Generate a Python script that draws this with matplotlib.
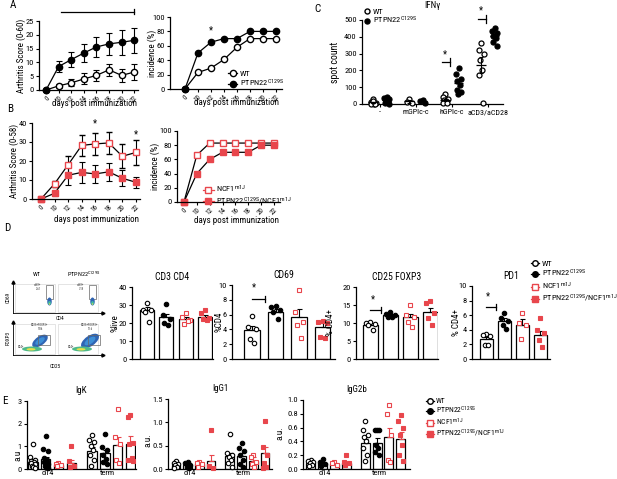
import numpy as np
import matplotlib.pyplot as plt
from matplotlib import font_manager
from matplotlib.lines import Line2D
from matplotlib.patches import Ellipse, Rectangle

W, H = 617, 479
RED = "#e8464c"

_names = {f.name for f in font_manager.fontManager.ttflist}
FONT = next((n for n in ["Liberation Sans Narrow", "Roboto Condensed", "Lato", "DejaVu Sans"]
             if n in _names), "DejaVu Sans")
plt.rcParams["font.family"] = [FONT, "DejaVu Sans"]
plt.rcParams["mathtext.default"] = "regular"
plt.rcParams["axes.linewidth"] = 0.9

# ---------------- data ----------------
days = ["0", "10", "12", "14", "16", "18", "20", "22"]
a_score_wt = [0, 1.5, 2.6, 4.0, 5.3, 7.3, 5.3, 6.5]
a_score_wt_err = [0, 0.8, 1.3, 2.0, 2.0, 2.1, 2.4, 2.9]
a_score_pt = [0, 8.5, 11.0, 13.4, 15.6, 16.7, 17.3, 18.0]
a_score_pt_err = [0, 2.1, 2.6, 3.2, 3.7, 4.0, 4.5, 4.6]
a_inc_wt = [0, 23, 29, 41, 58, 70, 70, 70]
a_inc_pt = [0, 50, 65, 70, 70, 80, 80, 80]

b_score_ncf = [0, 8, 18, 28.2, 29, 29.5, 22.5, 24.5]
b_score_ncf_err = [0, 1.5, 4.5, 5.5, 6.0, 6.0, 6.3, 6.8]
b_score_dbl = [0, 3, 12.5, 14, 13.2, 14.3, 10.9, 8.8]
b_score_dbl_err = [0, 1.2, 5.0, 5.5, 4.6, 4.8, 4.3, 2.8]
b_inc_ncf = [0, 66, 83, 83, 83, 83, 83, 83]
b_inc_dbl = [0, 40, 60, 70, 70, 70, 80, 80]

c_groups = ["-", "mGPIc-c", "hGPIc-c", "aCD3/aCD28"]
c_wt = [[30, 12, 8, 5, 2, 0, 0, 18], [30, 12, 5], [58, 40, 30, 22, 15, 8, 3],
        [362, 322, 300, 262, 205, 170, 5]]
c_pt = [[42, 35, 28, 20, 12, 5, 0, 25], [25, 18, 8], [212, 178, 150, 135, 115, 82, 70, 62],
        [450, 432, 420, 405, 395, 370, 348]]

labels4 = ["WT", "PTPN22$^{C129S}$", "NCF1$^{m1J}$", "PTPN22$^{C129S}$/NCF1$^{m1J}$"]

cd3_mean = [27.5, 23.1, 22.2, 23.2]
cd3_err = [1.3, 2.1, 1.1, 1.4]
cd3_pts = [[31, 27.5, 27, 26.2, 20.7], [30.5, 24.4, 22, 19.8, 18.9],
           [25.7, 23.5, 21.6, 19.3, 21.0], [27.5, 25.3, 22.6, 22, 21.6]]
cd69_mean = [3.9, 6.4, 5.7, 4.3]
cd69_err = [0.6, 0.4, 1.1, 0.6]
cd69_pts = [[5.8, 4.3, 4.0, 2.7, 2.2], [7.2, 7.0, 6.6, 6.4, 5.4],
            [9.3, 6.4, 5.0, 4.6, 2.8], [5.1, 5.0, 4.9, 3.0, 2.8]]
cd25_mean = [9.5, 12.2, 11.6, 13.0]
cd25_err = [0.5, 0.4, 0.9, 1.2]
cd25_pts = [[10.4, 10.0, 9.7, 9.4, 8.1], [13.0, 12.5, 12.2, 11.8, 11.7],
            [15.0, 12.3, 11.8, 10.3, 9.0], [16.0, 15.5, 12.8, 11.5, 9.4]]
pd1_mean = [2.7, 5.2, 4.7, 3.3]
pd1_err = [0.3, 0.4, 0.8, 0.6]
pd1_pts = [[3.4, 3.3, 3.2, 1.9, 1.9], [6.3, 5.6, 5.2, 4.7, 4.1],
           [6.3, 5.0, 4.7, 2.7], [5.6, 4.0, 3.5, 2.6, 1.6]]

igk_mean = [0.3, 0.42, 0.18, 0.28, 0.8, 0.7, 1.05, 1.12]
igk_err = [0.08, 0.12, 0.03, 0.1, 0.15, 0.15, 0.38, 0.35]
igk_pts = [[1.1, 0.55, 0.4, 0.35, 0.3, 0.25, 0.2, 0.15, 0.1, 0.05],
           [1.45, 0.9, 0.8, 0.5, 0.4, 0.3, 0.2, 0.15, 0.1, 0.05],
           [0.25, 0.2, 0.18, 0.12], [1.0, 0.35, 0.15, 0.1],
           [1.5, 1.3, 1.2, 1.0, 0.85, 0.6, 0.4, 0.15],
           [1.55, 0.95, 0.85, 0.6, 0.45, 0.3, 0.2],
           [2.65, 1.43, 1.1, 0.4, 0.27], [2.4, 2.3, 1.15, 1.1, 0.5, 0.4, 0.35]]
igg1_mean = [0.08, 0.08, 0.1, 0.18, 0.28, 0.28, 0.18, 0.35]
igg1_err = [0.02, 0.02, 0.02, 0.12, 0.06, 0.06, 0.08, 0.12]
igg1_pts = [[0.17, 0.12, 0.1, 0.08, 0.05, 0.03], [0.15, 0.12, 0.08, 0.05, 0.03],
            [0.15, 0.12, 0.1, 0.05], [0.83, 0.06, 0.03],
            [0.76, 0.35, 0.3, 0.25, 0.2, 0.12, 0.05], [0.55, 0.45, 0.38, 0.3, 0.2, 0.1, 0.05],
            [0.3, 0.25, 0.15, 0.1, 0.05], [1.02, 0.48, 0.3, 0.12, 0.05, 0.03]]
igg2b_mean = [0.09, 0.08, 0.07, 0.08, 0.38, 0.37, 0.47, 0.44]
igg2b_err = [0.01, 0.015, 0.01, 0.02, 0.05, 0.08, 0.13, 0.09]
igg2b_pts = [[0.13, 0.11, 0.1, 0.08, 0.06, 0.05], [0.14, 0.1, 0.07, 0.05],
             [0.1, 0.08, 0.06], [0.2, 0.1, 0.08, 0.06],
             [0.69, 0.57, 0.5, 0.47, 0.4, 0.3, 0.2, 0.12], [0.56, 0.56, 0.56, 0.35, 0.3, 0.25, 0.2],
             [0.93, 0.8, 0.5, 0.13, 0.1], [0.78, 0.7, 0.6, 0.5, 0.35, 0.2, 0.12]]
e_groups = ["d14", "term"]

# ---------------- helpers ----------------
fig = plt.figure(figsize=(W / 100, H / 100), dpi=100)

STY = [dict(marker="o", mfc="white", mec="black", color="black"),
       dict(marker="o", mfc="black", mec="black", color="black"),
       dict(marker="s", mfc="white", mec=RED, color=RED),
       dict(marker="s", mfc=RED, mec=RED, color=RED)]
OFFS = np.array([0, -1, 1, -0.5, 0.5, -0.8, 0.8, -0.25, 0.25, 0.9])


def add_ax(x0, y0, x1, y1):
    ax = fig.add_axes([x0 / W, 1 - y1 / H, (x1 - x0) / W, (y1 - y0) / H])
    ax._px = (x0, y0, x1, y1)
    for s in ["top", "right"]:
        ax.spines[s].set_visible(False)
    ax.tick_params(direction="out", length=2.5, width=0.8, labelsize=6, pad=1.2)
    return ax


def ylabel_px(ax, text, xr, yc=None, size=6.5):
    x0, y0, x1, y1 = ax._px
    yc = (y0 + y1) / 2 if yc is None else yc
    ax.set_ylabel(text, fontsize=size)
    ax.yaxis.set_label_coords((xr - x0) / (x1 - x0), (y1 - yc) / (y1 - y0))


def xlabel_px(ax, text, xc, ytop, size=6.5):
    x0, y0, x1, y1 = ax._px
    ax.set_xlabel(text, fontsize=size)
    ax.xaxis.set_label_coords((xc - x0) / (x1 - x0), (y1 - ytop) / (y1 - y0))


def ftext(x, y, s, **kw):
    fig.text(x / W, 1 - y / H, s, **kw)


def day_axis(ax, xlim):
    ax.set_xlim(*xlim)
    ax.set_xticks(np.arange(len(days)))
    ax.set_xticklabels(days, rotation=45, ha="right", rotation_mode="anchor", fontsize=5)
    ax.tick_params(axis="x", pad=0.8)


def bracket(ax, x0, x1, y, d):
    ax.plot([x0, x1], [y, y], color="black", lw=0.9, clip_on=False)
    ax.plot([x1, x1], [y - d, y + d], color="black", lw=0.9, clip_on=False)


def bar_panel(ax, pos, means, errs, pts, width, spread, ecol_red=False):
    for i, p in enumerate(pos):
        g = i % 4
        ax.bar(p, means[i], width=width, color="white", edgecolor="black", lw=0.9, zorder=1)
        ec = STY[g]["color"] if ecol_red else "black"
        ax.errorbar(p, means[i], yerr=[[0], [errs[i]]], color=ec, lw=0.8, capsize=1.8,
                    capthick=0.8, zorder=2)
        n = len(pts[i])
        off = np.resize(OFFS, n) * spread
        st = {k: v for k, v in STY[g].items() if k != "color"}
        ax.plot(p + off, pts[i], ls="none", ms=3.2, mew=0.8, zorder=3, clip_on=False, **st)


# ---------------- A ----------------
x = np.arange(len(days))
ax = add_ax(39, 21, 138, 90)
ax.errorbar(x, a_score_wt, yerr=a_score_wt_err, color="black", marker="o", mfc="white",
            mec="black", ms=4.5, lw=0.9, elinewidth=0.8, capsize=2.2, capthick=0.8, clip_on=False)
ax.errorbar(x, a_score_pt, yerr=a_score_pt_err, color="black", marker="o", mfc="black",
            ms=4.5, lw=0.9, elinewidth=0.8, capsize=2.2, capthick=0.8, clip_on=False)
ax.set_ylim(0, 25)
ax.set_yticks([0, 5, 10, 15, 20, 25])
day_axis(ax, (-0.56, 7.3))
bracket(ax, 1.2, 7, 28.3, 0.9)
ylabel_px(ax, "Arthritis Score (0-60)", 26)
xlabel_px(ax, "days post immunization", 95, 99)

ax = add_ax(170, 17, 282, 89)
ax.plot(x, a_inc_wt, color="black", marker="o", mfc="white", mec="black", ms=4.5, lw=0.9,
        clip_on=False, label="WT")
ax.plot(x, a_inc_pt, color="black", marker="o", mfc="black", ms=4.5, lw=0.9, clip_on=False,
        label="PTPN22$^{C129S}$")
ax.set_ylim(0, 100)
ax.set_yticks([0, 20, 40, 60, 80, 100])
day_axis(ax, (-1.15, 7.46))
ax.text(2, 74, "*", ha="center", va="bottom", fontsize=7)
ylabel_px(ax, "incidence (%)", 157)
xlabel_px(ax, "days post immunization", 237, 98)
ax.legend(loc="upper left", bbox_to_anchor=(228 / W, 1 - 70 / H), bbox_transform=fig.transFigure,
          frameon=False, fontsize=6, handlelength=1.1, handletextpad=0.3, labelspacing=0.1,
          borderpad=0, borderaxespad=0)

# ---------------- B ----------------
ax = add_ax(32, 123, 140, 199)
ax.errorbar(x, b_score_ncf, yerr=b_score_ncf_err, color="black", marker="s", mfc="white",
            mec=RED, ms=4.5, mew=1.0, lw=0.9, elinewidth=0.8, capsize=2.2, capthick=0.8,
            clip_on=False)
ax.errorbar(x, b_score_dbl, yerr=b_score_dbl_err, color="black", marker="s", mfc=RED, mec=RED,
            ms=4.5, lw=0.9, elinewidth=0.8, capsize=2.2, capthick=0.8, clip_on=False)
ax.set_ylim(0, 40)
ax.set_yticks([0, 10, 20, 30, 40])
day_axis(ax, (-0.66, 7.3))
ax.text(4, 37, "*", ha="center", va="bottom", fontsize=7)
ax.text(7, 31.5, "*", ha="center", va="bottom", fontsize=7)
ylabel_px(ax, "Arthritis Score (0-58)", 19)
xlabel_px(ax, "days post immunization", 96, 215)

ax = add_ax(177, 131, 280, 202)
ax.plot(x, b_inc_ncf, color="black", marker="s", mfc="white", mec=RED, mew=1.0, ms=4.5, lw=0.9,
        clip_on=False)
ax.plot(x, b_inc_dbl, color="black", marker="s", mfc=RED, mec=RED, ms=4.5, lw=0.9, clip_on=False)
ax.set_ylim(0, 100)
ax.set_yticks([0, 20, 40, 60, 80, 100])
day_axis(ax, (-0.54, 7.47))
ylabel_px(ax, "incidence (%)", 160)
xlabel_px(ax, "days post immunization", 237, 216)
hb = [Line2D([], [], color=RED, marker="s", mfc="white", mec=RED, ms=4, lw=0.9),
      Line2D([], [], color=RED, marker="s", mfc=RED, mec=RED, ms=4, lw=0.9)]
fig.legend(hb, [labels4[2], labels4[3]], loc="upper left", bbox_to_anchor=(203 / W, 1 - 184 / H),
           frameon=False, fontsize=6, handlelength=1.3, handletextpad=0.3, labelspacing=0.05,
           borderpad=0, borderaxespad=0)

# ---------------- C ----------------
ax = add_ax(362, 20, 503, 104)
for i in range(len(c_groups)):
    for vals, dx, st in [(c_wt[i], -0.19, STY[0]), (c_pt[i], 0.19, STY[1])]:
        v = np.array(vals, dtype=float)
        off = np.resize(OFFS, len(v)) * 0.07
        ax.plot(i + dx + off, v, ls="none", marker="o", mfc=st["mfc"], mec="black", ms=3.6,
                mew=0.9, clip_on=False, zorder=3)
        m, se = v.mean(), v.std(ddof=1) / np.sqrt(len(v))
        ax.hlines(m, i + dx - 0.13, i + dx + 0.13, color="black", lw=0.9, zorder=4)
        ax.errorbar(i + dx, m, yerr=se, color="black", lw=0.8, capsize=1.5, capthick=0.8, zorder=4)
ax.set_ylim(0, 500)
ax.set_yticks(np.arange(0, 501, 100))
ax.set_xlim(-0.5, 3.42)
ax.set_xticks(np.arange(len(c_groups)))
ax.set_xticklabels(c_groups, fontsize=5.8)
ax.set_title("IFN\u03b3", fontsize=6.5, pad=9)
ylabel_px(ax, "spot count", 340, size=7)
bracket(ax, 1.72, 1.94, 250, 22)
ax.text(1.8, 268, "*", ha="center", va="bottom", fontsize=7)
bracket(ax, 2.72, 2.94, 506, 22)
ax.text(2.8, 525, "*", ha="center", va="bottom", fontsize=7)
hc = [Line2D([], [], ls="none", marker="o", mfc="white", mec="black", ms=3.6),
      Line2D([], [], ls="none", marker="o", mfc="black", mec="black", ms=3.6)]
ax.legend(hc, labels4[:2], loc="upper left", bbox_to_anchor=(364 / W, 1 - 8 / H),
          bbox_transform=fig.transFigure, frameon=False, fontsize=6, handlelength=0.8,
          handletextpad=0.3, labelspacing=0.0, borderpad=0, borderaxespad=0)

# ---------------- D flow plots ----------------
fl = fig.add_axes([8 / W, 1 - 372 / H, 100 / W, 102 / H])
fl.set_xlim(8, 108)
fl.set_ylim(372, 270)
fl.axis("off")
for ytop, ybot in [(282, 313), (322, 355)]:
    fl.plot([13, 13], [ybot, ytop], color="black", lw=0.6)
    fl.plot([13, 102], [ybot, ybot], color="black", lw=0.6)
    fl.plot(13, ytop, marker="^", color="black", ms=2.2)
    fl.plot(103, ybot, marker=">", color="black", ms=2.2)
    for bx in (15, 58):
        fl.add_patch(Rectangle((bx, ytop + 2), 40, ybot - ytop - 3, fill=False, ec="#d0d0d0", lw=0.4))
for dx, pct in [(0, "2.61"), (43, "7.18")]:
    fl.add_patch(Rectangle((46 + dx, 285), 7, 14, fill=False, ec="#666666", lw=0.5))
    fl.add_patch(Ellipse((49.5 + dx, 301.5), 4.5, 8, fc="#2f64b3", ec="none"))
    fl.add_patch(Ellipse((49.5 + dx, 303), 3, 4, fc="#3fb5a5", ec="none"))
    fl.add_patch(Ellipse((49.5 + dx, 304), 1.4, 1.4, fc="#e6e04a", ec="none"))
    fl.text(38 + dx, 287, "cd69+\n" + pct, fontsize=2.2, ha="center", va="center", color="#333333")
for dx, pct, sc in [(0, "9.86", 1.0), (50, "12.6", 1.15)]:
    fl.add_patch(Ellipse((40 + dx, 341), 18 * sc, 9 * sc, angle=-35, fc="#2f64b3", ec="none"))
    fl.add_patch(Ellipse((40 + dx, 341), 11 * sc, 5 * sc, angle=-35, fc="#3d8fd6", ec="none"))
    fl.add_patch(Ellipse((32 + dx, 349), 20, 5, fc="#4fb98a", ec="none"))
    fl.add_patch(Ellipse((31 + dx, 349.3), 9, 2.4, fc="#e6e04a", ec="none"))
    fl.add_patch(Rectangle((38 + dx, 335), 12, 10, fill=False, ec="#666666", lw=0.5))
    fl.text(40 + dx, 327, "CD25+FOXP3+\n" + pct, fontsize=2.2, ha="center", va="center",
            color="#333333")
    fl.text(21 + dx, 347, "CD4+", fontsize=2.2, ha="center", va="center", color="#333333")
fl.text(37, 274, "WT", fontsize=4.5, ha="center", va="center")
fl.text(84, 274, "PTPN22$^{C129S}$", fontsize=4.5, ha="center", va="center")
fl.text(8.5, 297, "CD69", fontsize=3.8, rotation=90, ha="center", va="center")
fl.text(60, 319, "CD4", fontsize=3.8, ha="center", va="center")
fl.text(8.5, 338, "FOXP3", fontsize=3.8, rotation=90, ha="center", va="center")
fl.text(55, 367, "CD25", fontsize=3.8, ha="center", va="center")

# ---------------- D bars ----------------
pos4 = np.arange(4)
panels_d = [
    ((132, 287, 213, 359), cd3_mean, cd3_err, cd3_pts, 40, [0, 10, 20, 30, 40], "CD3 CD4",
     "%live", 119, (-0.78, 3.41), 0.72, None),
    ((232, 285, 335, 359), cd69_mean, cd69_err, cd69_pts, 10, [0, 2, 4, 6, 8, 10], "CD69",
     "%CD4", 223, (-0.85, 3.53), 0.64, (8.1, 9.0)),
    ((356, 287, 438, 359), cd25_mean, cd25_err, cd25_pts, 20, [0, 5, 10, 15, 20], "CD25 FOXP3",
     "% CD4+", 335, (-0.73, 3.4), 0.75, (13.6, 15.2)),
    ((472, 286, 550, 359), pd1_mean, pd1_err, pd1_pts, 10, [0, 2, 4, 6, 8, 10], "PD1",
     "% CD4+", 461, (-0.8, 3.53), 0.72, (7.1, 7.9)),
]
for rect, mn, er, pts, top, yt, title, yl, xr, xl, wd, sig in panels_d:
    ax = add_ax(*rect)
    bar_panel(ax, pos4, mn, er, pts, wd, wd * 0.28)
    ax.set_ylim(0, top)
    ax.set_yticks(yt)
    ax.set_xlim(*xl)
    ax.set_xticks([])
    ax.set_title(title, fontsize=7, pad=5)
    ylabel_px(ax, yl, xr, size=6.5)
    if sig:
        bracket(ax, 0.0, 0.55, sig[0], top * 0.045)
        ax.text(0.1, sig[1], "*", ha="center", va="bottom", fontsize=7)

hd = [Line2D([], [], color="black", marker="o", mfc="white", mec="black", ms=4, lw=0.9),
      Line2D([], [], color="black", marker="o", mfc="black", mec="black", ms=4, lw=0.9),
      Line2D([], [], color=RED, marker="s", mfc="white", mec=RED, ms=4, lw=0.9),
      Line2D([], [], color=RED, marker="s", mfc=RED, mec=RED, ms=4, lw=0.9)]
fig.legend(hd, labels4, loc="upper left", bbox_to_anchor=(531 / W, 1 - 260 / H), frameon=False,
           fontsize=6, handlelength=1.0, handletextpad=0.3, labelspacing=0.15, borderpad=0,
           borderaxespad=0)

# ---------------- E ----------------
pos8 = np.array([0, 1, 2, 3, 4.6, 5.6, 6.6, 7.6])
panels_e = [
    ((27, 401, 136, 469), igk_mean, igk_err, igk_pts, 3, [0, 1, 2, 3], ["0", "1", "2", "3"],
     "IgK", "a.u", 22, 455, (-0.45, 8.03)),
    ((168, 399, 272, 469), igg1_mean, igg1_err, igg1_pts, 1.5, [0, 0.5, 1.0, 1.5],
     ["0.0", "0.5", "1.0", "1.5"], "IgG1", "a.u.", 152, 440, (-0.68, 8.2)),
    ((303, 400, 410, 469), igg2b_mean, igg2b_err, igg2b_pts, 1.0, [0, 0.2, 0.4, 0.6, 0.8, 1.0],
     ["0.0", "0.2", "0.4", "0.6", "0.8", "1.0"], "IgG2b", "a.u.", 284, 433, (-0.65, 8.38)),
]
for rect, mn, er, pts, top, yt, ytl, title, yl, xr, yc, xl in panels_e:
    ax = add_ax(*rect)
    bar_panel(ax, pos8, mn, er, pts, 0.75, 0.2, ecol_red=True)
    ax.set_ylim(0, top)
    ax.set_yticks(yt)
    ax.set_yticklabels(ytl)
    ax.set_xlim(*xl)
    ax.set_xticks([1.2, 5.8])
    ax.set_xticklabels(e_groups, fontsize=6)
    ax.tick_params(axis="x", length=0, pad=0.5)
    ax.set_title(title, fontsize=6.5, pad=6)
    ylabel_px(ax, yl, xr, yc, size=6.5)

fig.legend(hd, labels4, loc="upper left", bbox_to_anchor=(426 / W, 1 - 398 / H), frameon=False,
           fontsize=5.5, handlelength=1.0, handletextpad=0.3, labelspacing=0.05, borderpad=0,
           borderaxespad=0)

# ---------------- panel letters ----------------
for s, px, py in [("A", 13, 5), ("B", 10, 109), ("C", 318, 9), ("D", 7, 228), ("E", 5, 401)]:
    ftext(px, py, s, fontsize=8, ha="center", va="center")

fig.savefig("out.png", dpi=100)
